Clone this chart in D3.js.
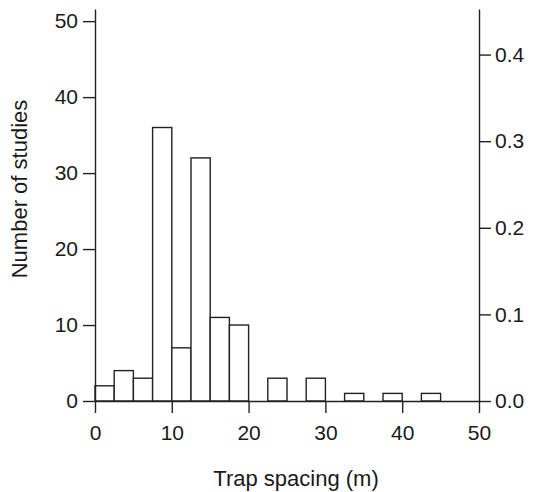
<!DOCTYPE html>
<html>
<head>
<meta charset="utf-8">
<script src="https://cdn.jsdelivr.net/npm/d3@7"></script>
<style>
  body { margin: 0; background: #fff; }
  svg { display: block; font-family: "Liberation Sans", Arial, sans-serif; }
  .axis text { font-size: 21px; fill: #1a1a1a; font-family: "Liberation Sans", Arial, sans-serif; }
  .axis path, .axis line { stroke: #222; stroke-width: 1.4; }
  .bar { fill: #fff; stroke: #222; stroke-width: 1.4; }
</style>
</head>
<body>
<svg id="chart" width="538" height="492"></svg>
<script>
// histogram of trap spacing, 2.5 m bins
let binStarts = [0, 2.5, 5, 7.5, 10, 12.5, 15, 17.5, 20, 22.5, 25, 27.5, 30, 32.5, 35, 37.5, 40, 42.5, 45, 47.5]
let counts    = [2, 4, 3, 36, 7, 32, 11, 10, 0, 3, 0, 3, 0, 1, 0, 1, 0, 1, 0, 0]
let binWidth = 2.5
let xTicks = [0, 10, 20, 30, 40, 50]
let yTicks = [0, 10, 20, 30, 40, 50]
let propTicks = [0, 0.1, 0.2, 0.3, 0.4]

let svg = d3.select("#chart")
let total = d3.sum(counts)
let yMax = 51.6

let xScale = d3.scaleLinear()
    .domain([0, 50])
    .range([95, 479])
let yScale = d3.scaleLinear()
    .domain([0, yMax])
    .range([401, 9])
let propScale = d3.scaleLinear()
    .domain([0, yMax / total])
    .range([401, 9])

let data = binStarts.map((s, i) => ({ x0: s, x1: s + binWidth, n: counts[i] }))
    .filter(d => d.n > 0)

svg.selectAll("rect.bar")
    .data(data)
    .enter().append("rect")
    .attr("class", "bar")
    .attr("x", d => xScale(d.x0))
    .attr("width", d => xScale(d.x1) - xScale(d.x0))
    .attr("y", d => yScale(d.n))
    .attr("height", d => yScale(0) - yScale(d.n))

svg.append("g")
    .attr("class", "axis")
    .attr("transform", "translate(0,401)")
    .call(d3.axisBottom(xScale).tickValues(xTicks).tickSize(12).tickSizeOuter(0).tickPadding(12))

svg.append("g")
    .attr("class", "axis")
    .attr("transform", "translate(95,0)")
    .call(d3.axisLeft(yScale).tickValues(yTicks).tickSize(12).tickSizeOuter(0).tickPadding(5))

svg.append("g")
    .attr("class", "axis")
    .attr("transform", "translate(479,0)")
    .call(d3.axisRight(propScale).tickValues(propTicks).tickFormat(d3.format(".1f")).tickSize(12).tickSizeOuter(0).tickPadding(4))

svg.append("text")
    .attr("x", 296)
    .attr("y", 486)
    .attr("text-anchor", "middle")
    .style("font-size", "22px")
    .style("fill", "#1a1a1a")
    .text("Trap spacing (m)")

svg.append("text")
    .attr("transform", "translate(27,189) rotate(-90)")
    .attr("text-anchor", "middle")
    .style("font-size", "22px")
    .style("fill", "#1a1a1a")
    .text("Number of studies")
</script>
</body>
</html>
